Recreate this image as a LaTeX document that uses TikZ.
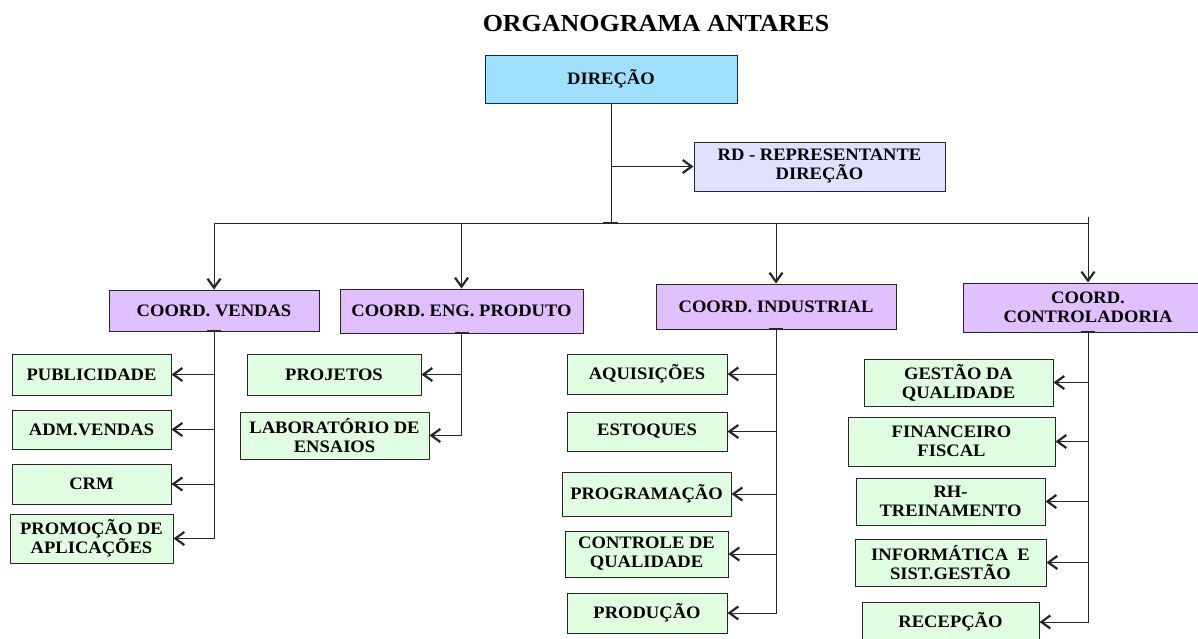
\documentclass[tikz,border=0pt]{standalone}
\usepackage{fontspec}
\setmainfont{Liberation Serif}[FakeStretch=1.06]
\usetikzlibrary{arrows.meta}
\definecolor{dirc}{RGB}{160,224,255}
\definecolor{rdc}{RGB}{224,224,255}
\definecolor{coc}{RGB}{224,192,255}
\definecolor{chc}{RGB}{224,255,224}
\begin{document}
\begin{tikzpicture}[x=1pt,y=-1pt,
  bx/.style={draw=black!85, line width=0.9pt, inner sep=0pt, align=center,
    font=\bfseries\fontsize{17.5}{19}\selectfont},
  coordbox/.style={bx, fill=coc},
  childbox/.style={bx, fill=chc},
  ln/.style={line width=0.9pt, draw=black!85},
  arr/.style={ln, -{Straight Barb[length=9pt,width=13pt,line width=2.2pt]}}
]
\useasboundingbox (0,0) rectangle (1198,639);
\clip (0,0) rectangle (1198,639);

\node[font=\bfseries\fontsize{24.5}{27}\selectfont, anchor=base] (title) at (656,32) {ORGANOGRAMA ANTARES};

\node[bx, fill=dirc, minimum width=252pt, minimum height=48pt] (dir) at (611,79) {DIREÇÃO};
\node[bx, fill=rdc, minimum width=251pt, minimum height=49pt] (rd) at (819.5,166.5) {RD - REPRESENTANTE\\DIREÇÃO};

\node[coordbox, minimum width=210pt, minimum height=41pt] (cv) at (214,310.5) {COORD. VENDAS};
\node[coordbox, minimum width=243pt, minimum height=44pt] (ce) at (461.5,311) {COORD. ENG. PRODUTO};
\node[coordbox, minimum width=240pt, minimum height=45pt] (ci) at (776,306.5) {COORD. INDUSTRIAL};
\node[coordbox, minimum width=250pt, minimum height=49pt] (cc) at (1088,307.5) {COORD.\\CONTROLADORIA};

% Vendas
\node[childbox, minimum width=159pt, minimum height=41pt] (pub) at (91.5,374.5) {PUBLICIDADE};
\node[childbox, minimum width=159pt, minimum height=39pt] (adm) at (91.5,429.5) {ADM.VENDAS};
\node[childbox, minimum width=159pt, minimum height=40pt] (crm) at (91.5,484) {CRM};
\node[childbox, minimum width=163pt, minimum height=49pt] (pro) at (91.5,538.5) {PROMOÇÃO DE\\APLICAÇÕES};
% Eng produto
\node[childbox, minimum width=174pt, minimum height=41pt] (prj) at (334,374.5) {PROJETOS};
\node[childbox, minimum width=189pt, minimum height=47pt] (lab) at (334.5,435.5) {LABORATÓRIO DE\\ENSAIOS};
% Industrial
\node[childbox, minimum width=160pt, minimum height=40pt] (aq) at (647,374) {AQUISIÇÕES};
\node[childbox, minimum width=160pt, minimum height=39pt] (est) at (647,431.5) {ESTOQUES};
\node[childbox, minimum width=169pt, minimum height=44pt] (prog) at (646.5,494) {PROGRAMAÇÃO};
\node[childbox, minimum width=163pt, minimum height=46pt] (cq) at (646.5,554) {CONTROLE DE\\QUALIDADE};
\node[childbox, minimum width=160pt, minimum height=40pt] (prod) at (647,613) {PRODUÇÃO};
% Controladoria
\node[childbox, minimum width=189pt, minimum height=47pt] (gq) at (958.5,382.5) {GESTÃO DA\\QUALIDADE};
\node[childbox, minimum width=207pt, minimum height=49pt] (fin) at (951.5,441.5) {FINANCEIRO\\FISCAL};
\node[childbox, minimum width=189pt, minimum height=47pt] (rh) at (950.5,501.5) {RH-\\TREINAMENTO};
\node[childbox, minimum width=191pt, minimum height=47pt] (inf) at (950.5,562.5) {INFORMÁTICA\ \ E\\SIST.GESTÃO};
\node[childbox, minimum width=177pt, minimum height=40pt] (rec) at (950.5,622) {RECEPÇÃO};

% top connectors
\coordinate (hl) at (213,223);
\draw[ln] (dir.south) -- (dir.south |- hl);
\draw[line width=2pt, draw=black!85] ([xshift=-8pt]dir.south |- hl) -- ([xshift=7pt]dir.south |- hl);
\draw[arr] (dir.south |- rd.west) -- (rd.west);
\draw[ln] (cv.north |- hl) -- (cc.north |- hl);
\draw[ln] ([yshift=-6pt]cc.north |- hl) -- ([yshift=6pt]cc.north |- hl);
\draw[arr] (cv.north |- hl) -- (cv.north);
\draw[arr] (ce.north |- hl) -- (ce.north);
\draw[arr] (ci.north |- hl) -- (ci.north);
\draw[arr] (cc.north |- hl) -- (cc.north);

% ticks under coordination boxes
\foreach \c in {cv,ce,ci,cc}{
  \draw[line width=2pt, draw=black!85] ([xshift=-7pt]\c.south) -- ([xshift=7pt]\c.south);
}

% Vendas branch
\draw[arr] (cv.south) |- (pro.east);
\foreach \n in {pub,adm,crm}{ \draw[arr] (cv.south |- \n.east) -- (\n.east); }
% Eng branch
\draw[arr] (ce.south) |- (lab.east);
\draw[arr] (ce.south |- prj.east) -- (prj.east);
% Industrial branch
\draw[arr] (ci.south) |- (prod.east);
\foreach \n in {aq,est,prog,cq}{ \draw[arr] (ci.south |- \n.east) -- (\n.east); }
% Controladoria branch
\draw[arr] (cc.south) |- (rec.east);
\foreach \n in {gq,fin,rh,inf}{ \draw[arr] (cc.south |- \n.east) -- (\n.east); }
\end{tikzpicture}
\end{document}
